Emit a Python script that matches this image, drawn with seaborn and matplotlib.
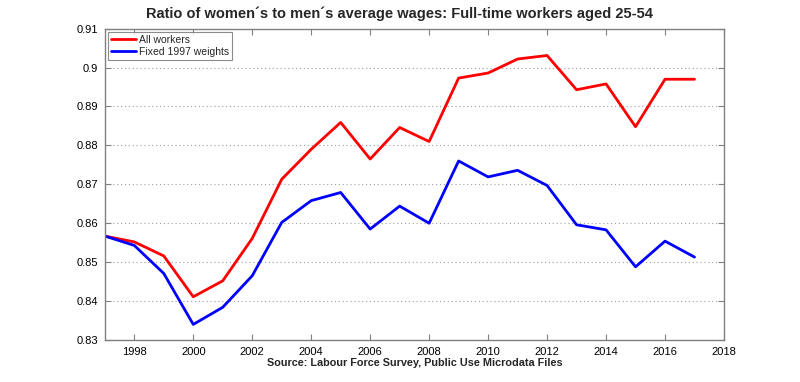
import pandas as pd
import numpy as np
import matplotlib
matplotlib.use('Agg')
import matplotlib.pyplot as plt
import seaborn as sns

#ratio of women's to men's average wages, full-time workers aged 25-54
years = list(range(1997, 2018))
all_workers = [0.8567, 0.8552, 0.8516, 0.8411, 0.8452, 0.8561, 0.8713, 0.8790,
               0.8859, 0.8765, 0.8846, 0.8810, 0.8973, 0.8986, 0.9022, 0.9031,
               0.8943, 0.8958, 0.8848, 0.8970, 0.8970]
fixed_1997 = [0.8567, 0.8543, 0.8471, 0.8340, 0.8384, 0.8465, 0.8602, 0.8658,
              0.8679, 0.8585, 0.8644, 0.8600, 0.8760, 0.8719, 0.8736, 0.8697,
              0.8596, 0.8583, 0.8488, 0.8554, 0.8513]
series_names = ['All workers', 'Fixed 1997 weights']
x_ticks = list(range(1998, 2019, 2))
y_ticks = [0.83, 0.84, 0.85, 0.86, 0.87, 0.88, 0.89, 0.9, 0.91]
y_labels = ['0.83', '0.84', '0.85', '0.86', '0.87', '0.88', '0.89', '0.9', '0.91']

df = pd.DataFrame({'year': years * 2,
                   'ratio': all_workers + fixed_1997,
                   'series': [series_names[0]] * len(years) + [series_names[1]] * len(years)})

sns.set_style('white')
plt.rcParams['font.family'] = ['Liberation Sans', 'DejaVu Sans']

fig = plt.figure(figsize=(8, 3.82), dpi=100)
ax = fig.add_axes([0.131, 0.110, 0.774, 0.815])
sns.lineplot(data=df, x='year', y='ratio', hue='series', palette=['#ff0000', '#0000ff'],
             lw=2, ax=ax)

ax.set_xlim(1997, 2018)
ax.set_ylim(0.83, 0.91)
ax.set_xticks(x_ticks)
ax.set_yticks(y_ticks)
ax.set_yticklabels(y_labels)
ax.tick_params(direction='in', length=4, color='#808080', labelsize=8, labelcolor='black',
               top=True, right=True, left=True, bottom=True, pad=5)
ax.yaxis.grid(True, linestyle=(0, (1, 2.5)), color='#a0a0a0', lw=0.8)
ax.xaxis.grid(False)
for s in ax.spines.values():
    s.set_color('#808080')
    s.set_linewidth(1)

ax.set_xlabel('Source: Labour Force Survey, Public Use Microdata Files', fontsize=7.8,
              fontweight='bold', labelpad=1)
ax.set_ylabel('')
#title is centred on the figure, not the axes
fig.text(0.5, 0.963, 'Ratio of women\u00b4s to men\u00b4s average wages: Full-time workers aged 25-54',
         fontsize=10.5, fontweight='bold', ha='center', va='center')

leg = ax.legend(loc='upper left', fontsize=7.5, frameon=True, fancybox=False,
                edgecolor='#707070', handlelength=2.4, borderaxespad=0.3,
                labelspacing=0.2, handletextpad=0.3, borderpad=0.3)
leg.get_frame().set_linewidth(0.8)

plt.savefig('out.png', dpi=100)
